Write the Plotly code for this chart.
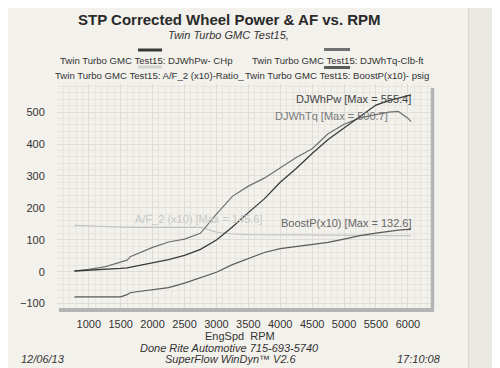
import plotly.graph_objects as go

# ---- data ----
rpm = [775, 1000, 1250, 1500, 1600, 1650, 1750, 2000, 2250, 2500, 2750, 3000, 3250,
       3500, 3750, 4000, 4250, 4500, 4750, 5000, 5250, 5500, 5700, 5850, 5950, 6000, 6050]
power_hp = [2, 4, 7, 10, 12, 14, 18, 27, 38, 51, 70, 99, 140,
            185, 228, 280, 323, 370, 414, 450, 487, 522, 536, 543, 548, 550, 554]
torque_lbft = [2, 7, 15, 29, 36, 47, 55, 76, 93, 102, 120, 180, 236,
               268, 293, 325, 358, 385, 432, 462, 482, 492, 500, 502, 489, 481, 470]
af_x10 = [145, 143, 141, 139, 139, 139, 139, 139, 139, 139, 139, 124, 118,
          116, 116, 115, 115, 115, 114, 114, 114, 114, 113, 113, 113, 113, 113]
boost_x10 = [-79, -79, -81, -79, -72, -66, -63, -56, -50, -36, -19, -2, 22,
             42, 60, 72, 79, 85, 92, 102, 113, 121, 127, 130, 132, 132, 132.6]

x_ticks = [1000, 1500, 2000, 2500, 3000, 3500, 4000, 4500, 5000, 5500, 6000]
y_ticks = [-100, 0, 100, 200, 300, 400, 500]

title = "STP Corrected Wheel Power & AF vs. RPM"
subtitle = "Twin Turbo GMC Test15,"
legend_names = ["Twin Turbo GMC Test15: DJWhPw- CHp",
                "Twin Turbo GMC Test15: DJWhTq-Clb-ft",
                "Twin Turbo GMC Test15: A/F_2 (x10)-Ratio_",
                "Twin Turbo GMC Test15: BoostP(x10)- psig"]

# ---- layout geometry (screen pixels; page body adds an 8px offset) ----
OFF = 8
W, H = 500, 368
L, R, T, B = 43 - OFF, 432 - OFF, 84 - OFF, 309 - OFF
FONT = "Liberation Sans, Arial, sans-serif"
BG = "#f3f1ec"

def px(xp):
    return (xp - OFF - L) / (R - L)

def py(yp):
    return (B - (yp - OFF)) / (B - T)

C_PW, C_TQ, C_AF, C_BO = "#3a3a3a", "#707070", "#c4c4c4", "#5a5a5a"

fig = go.Figure()
fig.add_trace(go.Scatter(x=rpm, y=af_x10, mode="lines", line=dict(color=C_AF, width=1.2), showlegend=False))
fig.add_trace(go.Scatter(x=rpm, y=boost_x10, mode="lines", line=dict(color=C_BO, width=1.2), showlegend=False))
fig.add_trace(go.Scatter(x=rpm, y=torque_lbft, mode="lines", line=dict(color=C_TQ, width=1.2), showlegend=False))
fig.add_trace(go.Scatter(x=rpm, y=power_hp, mode="lines", line=dict(color=C_PW, width=1.3), showlegend=False))

ann = []
ann.append(dict(text="<b>" + title + "</b>", x=px(222), y=py(20), font=dict(size=15, color="#2a2a2a")))
ann.append(dict(text="<i>" + subtitle + "</i>", x=px(221), y=py(35), font=dict(size=11, color="#333")))
leg_pos = [(136, 60), (334, 60), (139, 75), (333, 75)]
for name, (lx, ly) in zip(legend_names, leg_pos):
    ann.append(dict(text=name, x=px(lx), y=py(ly), font=dict(size=9.6, color="#333")))
ann.append(dict(text="DJWhPw [Max = 555.4]", x=px(412), y=py(99), xanchor="right", font=dict(size=11, color="#444")))
ann.append(dict(text="DJWhTq [Max = 500.7]", x=px(388), y=py(116), xanchor="right", font=dict(size=11, color="#7a7a7a")))
ann.append(dict(text="BoostP(x10) [Max = 132.6]", x=px(413), y=py(223), xanchor="right", font=dict(size=11, color="#666")))
ann.append(dict(text="A/F_2 (x10) [Max = 145.6]", x=px(122), y=py(219), xanchor="left", font=dict(size=11, color="#c8c8c8")))
ann.append(dict(text="EngSpd  RPM", x=px(233), y=py(336), font=dict(size=11, color="#333")))
ann.append(dict(text="<i>Done Rite Automotive 715-693-5740</i>", x=px(222), y=py(347.5), font=dict(size=11, color="#333")))
ann.append(dict(text="<i>SuperFlow WinDyn™ V2.6</i>", x=px(223), y=py(359), font=dict(size=11, color="#333")))
ann.append(dict(text="<i>12/06/13</i>", x=px(4), y=py(359), xanchor="left", font=dict(size=11, color="#333")))
ann.append(dict(text="<i>17:10:08</i>", x=px(443), y=py(359), xanchor="right", font=dict(size=11, color="#333")))
for a in ann:
    a.update(xref="paper", yref="paper", showarrow=False)
    a.setdefault("xanchor", "center")
    a["yanchor"] = "middle"
    a["font"]["family"] = FONT

shapes = []
shapes.append(dict(type="rect", xref="paper", yref="paper", x0=px(470), x1=px(W + 20), y0=py(H + 20), y1=py(-5),
                   fillcolor="#ebe9e4", line=dict(width=0), layer="below"))
shapes.append(dict(type="line", xref="paper", yref="paper", x0=px(470), x1=px(470), y0=py(H + 20), y1=py(-5),
                   line=dict(color="#d6d4cf", width=1)))
for (x0, x1, yc, col) in [(127, 152, 50, C_PW), (320, 347, 49.5, C_TQ), (127, 152, 67, "#d2d2d2"), (320, 347, 67.5, C_BO)]:
    shapes.append(dict(type="rect", xref="paper", yref="paper", x0=px(x0), x1=px(x1), y0=py(yc + 1.5), y1=py(yc - 1.5),
                       fillcolor=col, line=dict(width=0)))
shapes.append(dict(type="line", xref="paper", yref="paper", x0=px(45), x1=px(434), y0=py(310), y1=py(310),
                   line=dict(color="#b4b4b4", width=4)))
shapes.append(dict(type="line", xref="paper", yref="paper", x0=px(432.5), x1=px(432.5), y0=py(310), y1=py(88),
                   line=dict(color="#b4b4b4", width=3.5)))

fig.update_layout(
    width=W, height=H,
    margin=dict(l=L, r=W - R, t=T, b=H - B),
    paper_bgcolor=BG, plot_bgcolor=BG,
    font=dict(family=FONT, size=11, color="#333"),
    annotations=ann, shapes=shapes, showlegend=False,
)
fig.update_xaxes(range=[502, 6378], tickvals=x_ticks, ticks="outside", ticklen=5, tickcolor="rgba(0,0,0,0)",
                 showgrid=True, gridcolor="#dedcd7", gridwidth=1, zeroline=False, showline=False,
                 minor=dict(dtick=100, tick0=0, showgrid=True, gridcolor="#e7e5e0", gridwidth=0.6),
                 tickfont=dict(size=11, color="#333"))
fig.update_yaxes(range=[-117, 588], tickvals=y_ticks, ticks="outside", ticklen=9, tickcolor="rgba(0,0,0,0)",
                 showgrid=True, gridcolor="#dedcd7", gridwidth=1, zeroline=False, showline=False,
                 minor=dict(dtick=20, tick0=0, showgrid=True, gridcolor="#e7e5e0", gridwidth=0.6),
                 tickfont=dict(size=11, color="#333"))

fig.write_html("out.html")
